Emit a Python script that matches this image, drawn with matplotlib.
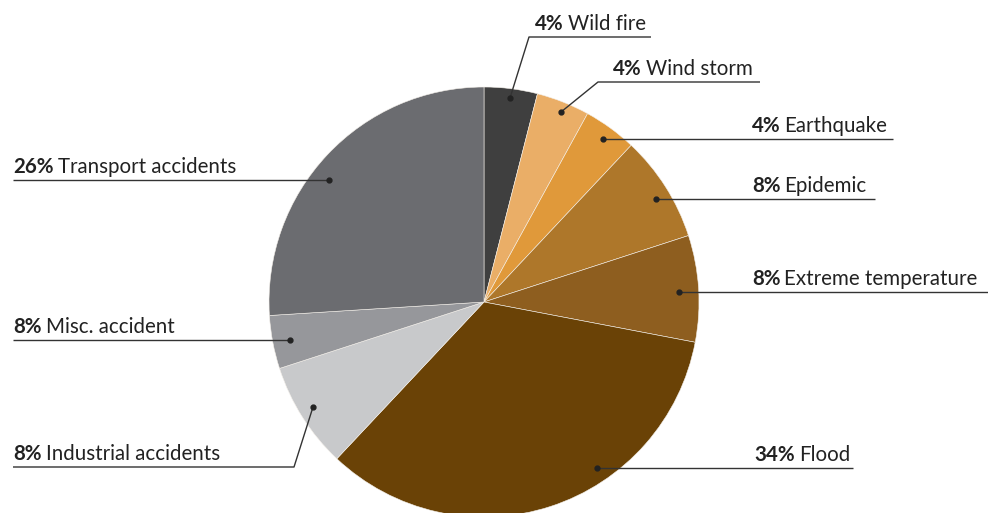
import matplotlib.pyplot as plt

# slice data, clockwise from 12 o'clock
categories = ["Wild fire", "Wind storm", "Earthquake", "Epidemic", "Extreme temperature",
              "Flood", "Industrial accidents", "Misc. accident", "Transport accidents"]
sizes = [4, 4, 4, 8, 8, 34, 8, 4, 26]
pct_labels = ["4%", "4%", "4%", "8%", "8%", "34%", "8%", "8%", "26%"]
colors = ["#3f3f3f", "#eaae67", "#e0993a", "#ae772a", "#8e5e1f",
          "#6a4206", "#c8c9cb", "#96979b", "#6b6c70"]

W, H = 988, 513

# label layout in pixel coords (y from top): dot, elbow, line end, text x, text align
layout = [
    dict(dot=(510, 98), elbow=(529, 37), end=(651, 37), tx=535, ha="left"),
    dict(dot=(561, 112), elbow=(598, 82), end=(760, 82), tx=613, ha="left"),
    dict(dot=(603, 139), elbow=None, end=(893, 139), tx=752, ha="left"),
    dict(dot=(656, 199), elbow=None, end=(875, 199), tx=752, ha="left"),
    dict(dot=(679, 292), elbow=None, end=(988, 292), tx=752, ha="left"),
    dict(dot=(597, 468), elbow=None, end=(853, 468), tx=850, ha="right"),
    dict(dot=(313, 407), elbow=(294, 467), end=(13, 467), tx=13, ha="left"),
    dict(dot=(290, 340), elbow=None, end=(13, 340), tx=13, ha="left"),
    dict(dot=(329, 180), elbow=None, end=(13, 180), tx=13, ha="left"),
]

plt.rcParams["font.family"] = ["Lato", "DejaVu Sans"]
FS = 14.8
TXT = "#222222"

fig = plt.figure(figsize=(W / 100, H / 100), dpi=100)
ax = fig.add_axes([0, 0, 1, 1])

ax.pie(sizes, colors=colors, startangle=90, counterclock=False,
       center=(484, H - 302), radius=215, frame=True,
       wedgeprops=dict(edgecolor="#f4f0ea", linewidth=0.4))
ax.set_xlim(0, W)
ax.set_ylim(0, H)
ax.set_aspect("equal")
ax.axis("off")

for cat, pct, lay in zip(categories, pct_labels, layout):
    pts = [lay["dot"]]
    if lay["elbow"] is not None:
        pts.append(lay["elbow"])
    pts.append(lay["end"])
    xs = [p[0] for p in pts]
    ys = [H - p[1] for p in pts]
    ax.plot(xs, ys, color="#333333", lw=1, solid_capstyle="butt", zorder=3)
    ax.plot(xs[0], ys[0], "o", color=TXT, ms=3.5, zorder=4)

    ty = H - lay["end"][1] + 7
    # bold percentage followed by regular name
    if lay["ha"] == "left":
        b = ax.text(lay["tx"], ty, pct, fontsize=FS, fontweight="bold",
                    color=TXT, ha="left", va="baseline")
        fig.canvas.draw()
        x1 = b.get_window_extent().x1
        ax.text(x1 + 4, ty, cat, fontsize=FS, color=TXT, ha="left", va="baseline")
    else:
        n = ax.text(lay["tx"], ty, cat, fontsize=FS, color=TXT,
                    ha="right", va="baseline")
        fig.canvas.draw()
        x0 = n.get_window_extent().x0
        ax.text(x0 - 4, ty, pct, fontsize=FS, fontweight="bold",
                color=TXT, ha="right", va="baseline")

fig.savefig("out.png", dpi=100)
